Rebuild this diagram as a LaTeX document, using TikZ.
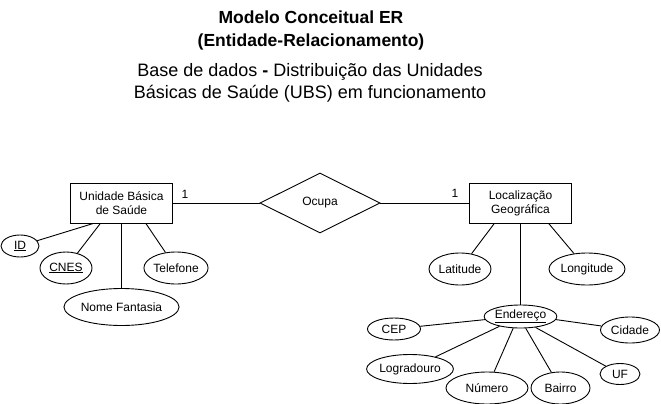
\documentclass[tikz,border=0pt]{standalone}
\usepackage{fontspec}
\setmainfont{Liberation Sans}
\usetikzlibrary{shapes.geometric, positioning}

\begin{document}
\begin{tikzpicture}[
        x=1pt, y=-1pt,
        entity/.style={rectangle, draw=black, line width=0.9pt, minimum width=102pt, minimum height=40pt, inner sep=0pt, align=center, font=\fontsize{12}{14}\selectfont},
        attr/.style={ellipse, draw=black, line width=0.9pt, inner sep=0pt, font=\fontsize{12}{14}\selectfont},
        relation/.style={diamond, draw=black, line width=0.9pt, minimum width=120pt, minimum height=60pt, inner sep=0pt, font=\fontsize{12}{14}\selectfont},
        card/.style={font=\fontsize{12}{14}\selectfont, inner sep=0pt},
        link/.style={line width=0.9pt}
    ]
        \useasboundingbox (0,0) rectangle (661,404);

        % Titles
        \node[align=center, font=\fontsize{17.5}{23}\selectfont\bfseries] (title) at (311, 30) {Modelo Conceitual ER\\(Entidade-Relacionamento)};
        \node[align=center, font=\fontsize{18}{22}\selectfont] (subtitle) at (310, 83) {Base de dados \textbf{-} Distribuição das Unidades\\Básicas de Saúde (UBS) em funcionamento};

        % Entities and relation
        \node[entity] (ubs) at (121.5, 203) {Unidade Básica\\de Saúde};
        \node[relation] (ocupa) at (320, 203) {Ocupa};
        \node[entity] (loc) at (520.5, 203) {Localização\\Geográfica};
        \node[card] (c1) at (185, 194) {1};
        \node[card] (c2) at (455, 193) {1};

        % Attributes of UBS
        \node[attr, minimum width=38pt, minimum height=22pt] (id) at (20, 246) {\underline{ID}};
        \node[attr, minimum width=52pt, minimum height=32pt] (cnes) at (66, 268) {\underline{CNES}};
        \node[attr, minimum width=63pt, minimum height=32pt] (tel) at (176, 268) {Telefone};
        \node[attr, minimum width=102pt, minimum height=37pt] (nome) at (121.5, 307) {Nome Fantasia};

        % Attributes of Localizacao
        \node[attr, minimum width=62pt, minimum height=32pt] (lat) at (460, 269) {Latitude};
        \node[attr, minimum width=76pt, minimum height=32pt] (long) at (587, 269) {Longitude};
        \node[attr, minimum width=71pt, minimum height=23pt] (end) at (520.5, 316.5) {\underline{Endereço}};

        % Attributes of Endereco
        \node[attr, minimum width=53pt, minimum height=22pt] (cep) at (394, 329) {CEP};
        \node[attr, minimum width=59pt, minimum height=26pt] (cid) at (630, 330) {Cidade};
        \node[attr, minimum width=81pt, minimum height=29pt] (logr) at (410, 369) {Logradouro};
        \node[attr, minimum width=82pt, minimum height=32pt] (num) at (487, 388) {Número};
        \node[attr, minimum width=59pt, minimum height=32pt] (bairro) at (560.5, 388) {Bairro};
        \node[attr, minimum width=40pt, minimum height=21pt] (uf) at (620, 374) {UF};

        % Lines
        \draw[link] (ubs) -- (ocupa);
        \draw[link] (ocupa) -- (loc);
        \draw[link] (ubs.216) -- (id);
        \draw[link] (ubs.224) -- (cnes);
        \draw[link] (ubs.320) -- (tel);
        \draw[link] (ubs) -- (nome);
        \draw[link] (loc.218) -- (lat);
        \draw[link] (loc.324) -- (long);
        \draw[link] (loc) -- (end);
        \draw[link] (end.185) -- (cep);
        \draw[link] (end.355) -- (cid);
        \draw[link] (end.205) -- (logr);
        \draw[link] (end.238) -- (num);
        \draw[link] (end.294) -- (bairro);
        \draw[link] (end.324) -- (uf);
    \end{tikzpicture}
\end{document}
